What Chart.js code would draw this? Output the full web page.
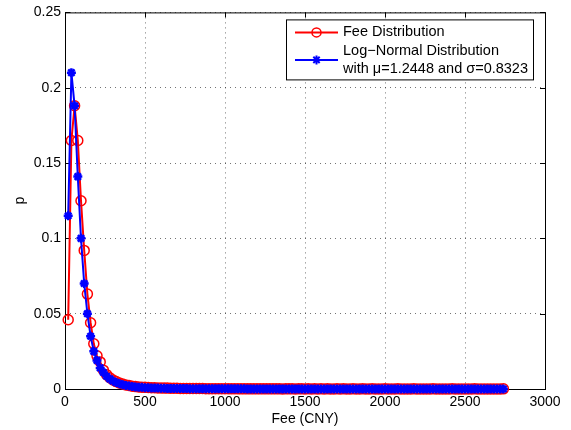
<!DOCTYPE html>
<html>
<head>
<meta charset="utf-8">
<script src="https://cdn.jsdelivr.net/npm/chart.js@4.4.0/dist/chart.umd.min.js"></script>
<style>
  html, body { margin: 0; padding: 0; background: #fff; }
</style>
</head>
<body>
<canvas id="grafico" width="571" height="430"></canvas>
<script>
// Fee (CNY), 20 CNY bins
const fee = [
  20, 40, 60, 80, 100, 120, 140, 160, 180, 200,
  220, 240, 260, 280, 300, 320, 340, 360, 380, 400,
  420, 440, 460, 480, 500, 520, 540, 560, 580, 600,
  620, 640, 660, 680, 700, 720, 740, 760, 780, 800,
  820, 840, 860, 880, 900, 920, 940, 960, 980, 1000,
  1020, 1040, 1060, 1080, 1100, 1120, 1140, 1160, 1180, 1200,
  1220, 1240, 1260, 1280, 1300, 1320, 1340, 1360, 1380, 1400,
  1420, 1440, 1460, 1480, 1500, 1520, 1540, 1560, 1580, 1600,
  1620, 1640, 1660, 1680, 1700, 1720, 1740, 1760, 1780, 1800,
  1820, 1840, 1860, 1880, 1900, 1920, 1940, 1960, 1980, 2000,
  2020, 2040, 2060, 2080, 2100, 2120, 2140, 2160, 2180, 2200,
  2220, 2240, 2260, 2280, 2300, 2320, 2340, 2360, 2380, 2400,
  2420, 2440, 2460, 2480, 2500, 2520, 2540, 2560, 2580, 2600,
  2620, 2640, 2660, 2680, 2700, 2720, 2740,
];

// empirical fee distribution
const feeDist = [
  0.046, 0.165, 0.188, 0.165, 0.125, 0.092, 0.063, 0.044, 0.030, 0.022,
  0.018, 0.0125, 0.0095, 0.0075, 0.006, 0.0049, 0.004, 0.0033, 0.0027, 0.0023,
  0.0019, 0.0016, 0.0014, 0.0012, 0.0011, 0.001, 0.0009, 0.0008, 0.0007, 0.0007,
  0.0006, 0.0006, 0.0005, 0.0005, 0.0005, 0.0004, 0.0004, 0.0004, 0.0003, 0.0003,
  0.0003, 0.0003, 0.0003, 0.0002, 0.0002, 0.0002, 0.0002, 0.0002, 0.0002, 0.0002,
  0.0002, 0.0001, 0.0002, 0.0001, 0.0001, 0.0001, 0.0001, 0.0001, 0.0001, 0.0001,
  0.0001, 0.0001, 0.0001, 0.0001, 0.0001, 0.0001, 0.0001, 0, 0.0001, 0.0001,
  0.0001, 0, 0.0001, 0.0001, 0, 0.0001, 0, 0.0001, 0, 0.0001,
  0, 0.0001, 0, 0, 0.0001, 0, 0.0001, 0, 0, 0.0001,
  0, 0, 0.0001, 0, 0, 0.0001, 0, 0, 0, 0.0001,
  0, 0, 0, 0.0001, 0, 0, 0, 0, 0.0001, 0,
  0, 0, 0, 0, 0.0001, 0, 0, 0, 0, 0,
  0.0001, 0, 0, 0, 0, 0, 0, 0.0001, 0, 0,
  0, 0, 0, 0, 0, 0, 0.0001,
];

// fitted log-normal
const logNormal = [
  0.115, 0.210, 0.188, 0.141, 0.100, 0.070, 0.050, 0.035, 0.025, 0.019,
  0.014, 0.011, 0.0085, 0.0067, 0.0053, 0.0043, 0.0035, 0.0029, 0.0024, 0.002,
  0.0017, 0.0014, 0.0012, 0.0011, 0.0009, 0.0008, 0.0007, 0.0006, 0.0006, 0.0005,
  0.0005, 0.0004, 0.0004, 0.0004, 0.0003, 0.0003, 0.0003, 0.0003, 0.0002, 0.0002,
  0.0002, 0.0002, 0.0002, 0.0002, 0.0002, 0.00018, 0.00016, 0.00015, 0.00014, 0.00013,
  0.00012, 0.00011, 0.0001, 0.0001, 0.00009, 0.00009, 0.00008, 0.00008, 0.00007, 0.00007,
  0.00007, 0.00006, 0.00006, 0.00006, 0.00005, 0.00005, 0.00005, 0.00005, 0.00004, 0.00004,
  0.00004, 0.00004, 0.00004, 0.00003, 0.00003, 0.00003, 0.00003, 0.00003, 0.00003, 0.00003,
  0.00003, 0.00002, 0.00002, 0.00002, 0.00002, 0.00002, 0.00002, 0.00002, 0.00002, 0.00002,
  0.00002, 0.00002, 0.00002, 0.00002, 0.00002, 0.00002, 0.00002, 0.00002, 0.00002, 0.00002,
  0.00002, 0.00002, 0.00002, 0.00002, 0.00002, 0.00001, 0.00001, 0.00001, 0.00001, 0.00001,
  0.00001, 0.00001, 0.00001, 0.00001, 0.00001, 0.00001, 0.00001, 0.00001, 0.00001, 0.00001,
  0.00001, 0.00001, 0.00001, 0.00001, 0.00001, 0.00001, 0.00001, 0.00001, 0.00001, 0.00001,
  0.00001, 0.00001, 0.00001, 0.00001, 0.00001, 0.00001, 0.00001,
];

const xTicks = [0, 500, 1000, 1500, 2000, 2500, 3000];
const yTicks = [0, 0.05, 0.1, 0.15, 0.2, 0.25];

const leyenda = [
  "Fee Distribution",
  "Log\u2212Normal Distribution",
  "with \u03bc=1.2448 and \u03c3=0.8323",
];

const FUENTE = '"Liberation Sans", Arial, sans-serif';
const ROJO = "#ff0000";
const AZUL = "#0000ff";

const puntos = (ys) => fee.map((x, i) => ({ x, y: ys[i] }));

const dibujarEstrella = (ctx, x, y, r) => {
  ctx.beginPath();
  ctx.moveTo(x - r, y);
  ctx.lineTo(x + r, y);
  ctx.moveTo(x, y - r);
  ctx.lineTo(x, y + r);
  const d = r * 0.7071;
  ctx.moveTo(x - d, y - d);
  ctx.lineTo(x + d, y + d);
  ctx.moveTo(x - d, y + d);
  ctx.lineTo(x + d, y - d);
  ctx.stroke();
};

/******************************************************************
 * Caja, marcas interiores y leyenda estilo MATLAB
 ******************************************************************/
const marcoMatlab = {
  id: "marcoMatlab",
  beforeDatasetsDraw(chart) {
    const { ctx, chartArea: a, scales } = chart;
    ctx.save();
    ctx.strokeStyle = "#000";
    ctx.lineWidth = 1;
    ctx.strokeRect(a.left + 0.5, a.top + 0.5, a.right - a.left, a.bottom - a.top);
    ctx.beginPath();
    xTicks.forEach((v) => {
      const px = Math.round(scales.x.getPixelForValue(v)) + 0.5;
      ctx.moveTo(px, a.bottom);
      ctx.lineTo(px, a.bottom - 5);
      ctx.moveTo(px, a.top);
      ctx.lineTo(px, a.top + 5);
    });
    yTicks.forEach((v) => {
      const py = Math.round(scales.y.getPixelForValue(v)) + 0.5;
      ctx.moveTo(a.left, py);
      ctx.lineTo(a.left + 5, py);
      ctx.moveTo(a.right, py);
      ctx.lineTo(a.right - 5, py);
    });
    ctx.stroke();
    ctx.restore();
  },
  afterDatasetsDraw(chart) {
    const { ctx, chartArea: a } = chart;
    const x0 = a.right - 259;
    const y0 = a.top + 7;
    ctx.save();
    ctx.fillStyle = "#fff";
    ctx.fillRect(x0, y0, 247, 60);
    ctx.strokeStyle = "#000";
    ctx.lineWidth = 1;
    ctx.strokeRect(x0 + 0.5, y0 + 0.5, 247, 60);

    const lx1 = x0 + 9;
    const lx2 = x0 + 52;
    const mx = (lx1 + lx2) / 2;

    // muestra roja
    ctx.strokeStyle = ROJO;
    ctx.lineWidth = 2;
    ctx.beginPath();
    ctx.moveTo(lx1, y0 + 13);
    ctx.lineTo(lx2, y0 + 13);
    ctx.stroke();
    ctx.lineWidth = 1.5;
    ctx.beginPath();
    ctx.arc(mx, y0 + 13, 4.5, 0, Math.PI * 2);
    ctx.stroke();

    // muestra azul
    ctx.strokeStyle = AZUL;
    ctx.lineWidth = 2;
    ctx.beginPath();
    ctx.moveTo(lx1, y0 + 40.5);
    ctx.lineTo(lx2, y0 + 40.5);
    ctx.stroke();
    ctx.lineWidth = 2;
    dibujarEstrella(ctx, mx, y0 + 40.5, 4.5);

    ctx.fillStyle = "#000";
    ctx.font = `14.5px ${FUENTE}`;
    ctx.textBaseline = "middle";
    ctx.textAlign = "left";
    ctx.fillText(leyenda[0], x0 + 57, y0 + 13);
    ctx.fillText(leyenda[1], x0 + 57, y0 + 32);
    ctx.fillText(leyenda[2], x0 + 57, y0 + 50);
    ctx.restore();
  },
};

const ctx = document.getElementById("grafico");

new Chart(ctx, {
  type: "line",
  data: {
    datasets: [
      {
        label: leyenda[0],
        data: puntos(feeDist),
        borderColor: ROJO,
        borderWidth: 2,
        pointStyle: "circle",
        pointRadius: 5,
        pointBorderWidth: 1.5,
        pointBorderColor: ROJO,
        pointBackgroundColor: "rgba(0,0,0,0)",
        tension: 0,
        clip: false,
        order: 1,
      },
      {
        label: leyenda[1],
        data: puntos(logNormal),
        borderColor: AZUL,
        borderWidth: 2,
        pointStyle: "star",
        pointRadius: 4.5,
        pointBorderWidth: 2.5,
        pointBorderColor: AZUL,
        pointBackgroundColor: AZUL,
        tension: 0,
        clip: false,
        order: 0,
      },
    ],
  },
  options: {
    responsive: false,
    animation: false,
    devicePixelRatio: 1,
    layout: { padding: { top: 12, right: 26, left: 0, bottom: 0 } },
    plugins: {
      legend: { display: false },
      tooltip: { enabled: false },
    },
    scales: {
      x: {
        type: "linear",
        min: 0,
        max: 3000,
        afterBuildTicks: (scale) => {
          scale.ticks = xTicks.map((v) => ({ value: v }));
        },
        afterFit: (scale) => {
          scale.height = 41;
        },
        ticks: {
          color: "#000",
          padding: 5,
          maxRotation: 0,
          font: { family: FUENTE, size: 14 },
          callback: (v) => String(v),
        },
        grid: {
          drawTicks: false,
          color: "rgba(0,0,0,0.55)",
          lineWidth: 1,
        },
        border: { display: false, dash: [1, 4] },
        title: {
          display: true,
          text: "Fee (CNY)",
          color: "#000",
          font: { family: FUENTE, size: 14 },
          padding: { top: 0, bottom: 2 },
        },
      },
      y: {
        type: "linear",
        min: 0,
        max: 0.25,
        afterBuildTicks: (scale) => {
          scale.ticks = yTicks.map((v) => ({ value: v }));
        },
        afterFit: (scale) => {
          scale.width = 65;
        },
        ticks: {
          color: "#000",
          padding: 4,
          font: { family: FUENTE, size: 14 },
          callback: (v) => String(Number(v.toFixed(2))),
        },
        grid: {
          drawTicks: false,
          color: "rgba(0,0,0,0.55)",
          lineWidth: 1,
        },
        border: { display: false, dash: [1, 4] },
        title: {
          display: true,
          text: "p",
          color: "#000",
          font: { family: FUENTE, size: 14 },
          padding: { top: 12, bottom: 0 },
        },
      },
    },
  },
  plugins: [marcoMatlab],
});
</script>
</body>
</html>
